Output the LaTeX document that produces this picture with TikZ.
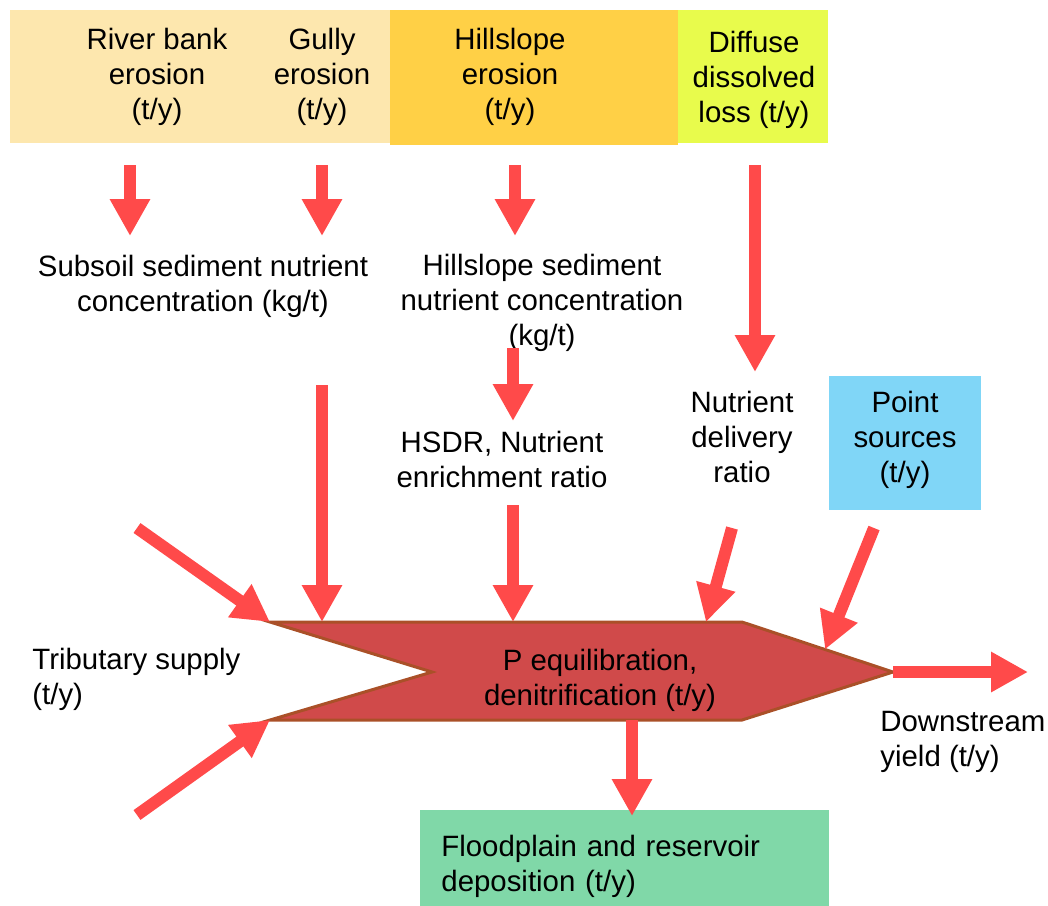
\documentclass[tikz,border=0pt]{standalone}
\usepackage{fontspec}
\setmainfont{Liberation Sans}
\usepackage{xcolor}
\usetikzlibrary{positioning,arrows.meta,calc}
\definecolor{bankfill}{RGB}{253,231,174}
\definecolor{hillfill}{RGB}{255,208,70}
\definecolor{difffill}{RGB}{232,251,76}
\definecolor{pointfill}{RGB}{128,214,247}
\definecolor{floodfill}{RGB}{128,216,168}
\definecolor{flowred}{RGB}{255,74,74}
\definecolor{reachfill}{RGB}{208,74,74}
\definecolor{reachline}{RGB}{170,80,40}

\begin{document}
\begin{tikzpicture}[x=0.5pt,y=-0.5pt,
  every node/.style={font=\fontsize{14.7}{17.5}\selectfont, inner sep=0pt},
  lbl/.style={align=center},
  band/.style={anchor=north west, inner sep=0pt},
  flow/.style={draw=flowred, line width=6pt, -{Triangle[length=18.5pt,width=19pt]}}]
  \useasboundingbox (0,0) rectangle (1048,905);

  % top band
  \node[band, fill=bankfill, minimum width=190pt, minimum height=66.5pt] (bankbox) at (10,10) {};
  \node[band, fill=hillfill, minimum width=144pt, minimum height=67.5pt] (hillbox) at (390,10) {};
  \node[band, fill=difffill, minimum width=75pt, minimum height=66.5pt] (diffbox) at (678,10) {};
  \node[lbl] (riverbank) at (157,77) {River bank\\erosion\\(t/y)};
  \node[lbl] (gully) at (322,77) {Gully\\erosion\\(t/y)};
  \node[lbl] (hillslope) at (510,77) {Hillslope\\erosion\\(t/y)};
  \node[lbl] (diffuse) at (754,80) {Diffuse\\dissolved\\loss (t/y)};

  % factors
  \node[lbl] (subsoil) at (203,286) {Subsoil sediment nutrient\\concentration (kg/t)};
  \node[lbl] (hillconc) at (542,303) {Hillslope sediment\\nutrient concentration\\(kg/t)};
  \node[lbl] (hsdr) at (502,459) {HSDR, Nutrient\\enrichment ratio};
  \node[lbl] (ndr) at (742,437) {Nutrient\\delivery\\ratio};
  \node[lbl, fill=pointfill, minimum width=76pt, minimum height=67pt] (point) at (905,443) {Point\\sources\\(t/y)\rule[-6pt]{0pt}{6pt}};

  % river reach
  \coordinate (reach nw) at (270,622);
  \coordinate (reach ne) at (742,622);
  \coordinate (reach tip) at (893,672);
  \coordinate (reach se) at (742,720);
  \coordinate (reach sw) at (270,720);
  \coordinate (reach notch) at (432,672);
  \filldraw[fill=reachfill, draw=reachline, line width=1.5pt, line join=miter]
    (reach nw) -- (reach ne) -- (reach tip) -- (reach se) -- (reach sw) -- (reach notch) -- cycle;
  \node[lbl] (reach) at (600,680) {P equilibration,\\denitrification (t/y)};

  \node[align=left, anchor=west] (tributary) at (32,679) {Tributary supply\\(t/y)};
  \node[align=left, anchor=west] (downstream) at (880,742) {Downstream\\yield (t/y)};
  \node[band, fill=floodfill, minimum width=204.5pt, minimum height=56pt,
    inner xsep=10.5pt, text width=183.5pt, align=left] (flood) at (420,810)
    {Floodplain and reservoir\\deposition (t/y)};

  % arrow ends
  \coordinate (rb out) at (130,165);
  \coordinate (rb in) at (130,236);
  \coordinate (gu out) at (322,165);
  \coordinate (gu in) at (322,236);
  \coordinate (hs out) at (515,165);
  \coordinate (hs in) at (515,236);
  \coordinate (dd out) at (755,165);
  \coordinate (dd in) at (755,372);
  \coordinate (hc out) at (513,348);
  \coordinate (hc in) at (513,421);
  \coordinate (ss out) at (322,385);
  \coordinate (hr out) at (513,505);
  \coordinate (nd out) at (732,528);
  \coordinate (nd in) at (706,622);
  \coordinate (ps out) at (874,528);
  \coordinate (tr top) at (137,528);
  \coordinate (tr bot) at (137,815);
  \coordinate (ds end) at (1028,672);
  \coordinate (dep out) at (632,720);
  \coordinate (dep in) at (632,816);

  \draw[flow] (rb out) -- (rb in);
  \draw[flow] (gu out) -- (gu in);
  \draw[flow] (hs out) -- (hs in);
  \draw[flow] (dd out) -- (dd in);
  \draw[flow] (hc out) -- (hc in);
  \draw[flow] (ss out) -- (ss out |- reach nw);
  \draw[flow] (hr out) -- (hr out |- reach nw);
  \draw[flow] (nd out) -- (nd in);
  \draw[flow] (ps out) -- ($(reach ne)!0.55!(reach tip)$);
  \draw[flow] (tr top) -- (reach nw);
  \draw[flow] (tr bot) -- (reach sw);
  \draw[flow] (reach tip) -- (ds end);
  \draw[flow] (dep out) -- (dep in);
\end{tikzpicture}
\end{document}
